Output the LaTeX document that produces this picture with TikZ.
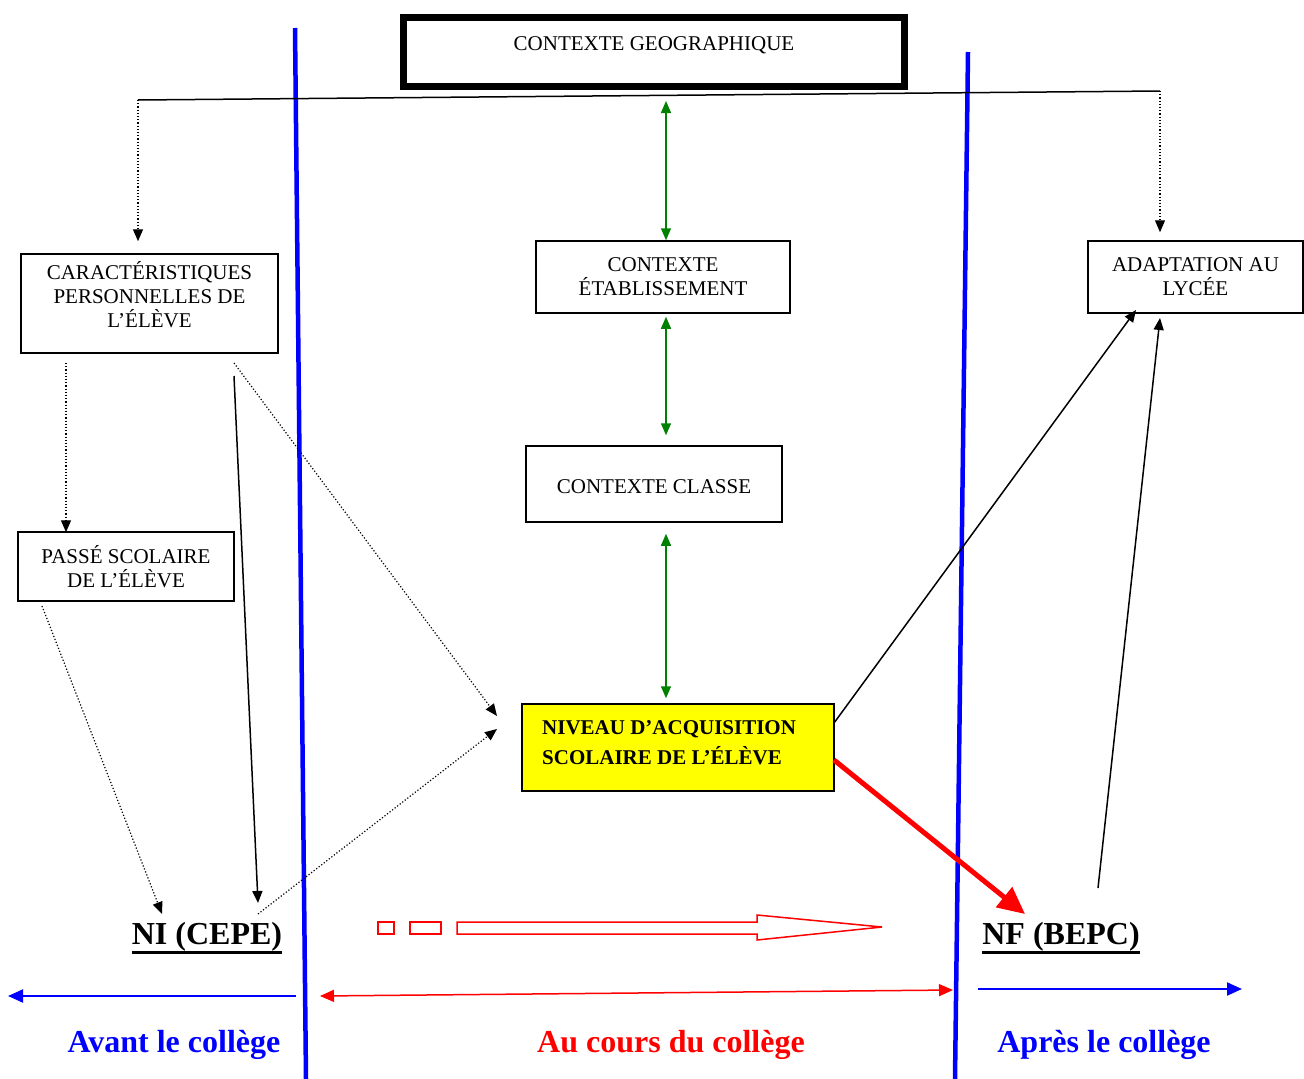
\documentclass[tikz,border=0pt]{standalone}
\usepackage{fontspec}
\setmainfont{Liberation Serif}
\usetikzlibrary{arrows.meta}
\definecolor{dgreen}{RGB}{0,128,0}
\definecolor{yel}{RGB}{255,255,0}
\begin{document}
\begin{tikzpicture}[x=1pt,y=-1pt,
  box/.style={draw, line width=1.5pt, fill=white, inner sep=0pt},
  txt/.style={font=\fontsize{21}{24}\selectfont, align=center, inner sep=0pt},
  bigtxt/.style={font=\fontsize{32}{36}\selectfont\bfseries, inner sep=0pt},
  lbl/.style={font=\fontsize{32}{36}\selectfont\bfseries, inner sep=0pt},
  tip/.style={-{Triangle[length=12pt,width=10pt]}},
  gtip/.style={dgreen, line width=1.5pt, {Triangle[length=12pt,width=10pt]}-{Triangle[length=12pt,width=10pt]}},
  dots/.style={dotted, line width=1.2pt, tip},
  solid arrow/.style={line width=1.5pt, tip},
  sep/.style={blue, line width=4.5pt},
]
\useasboundingbox (0,0) rectangle (1304,1079);

% separators
\coordinate (s1a) at (295,28);
\coordinate (s1b) at (306,1079);
\coordinate (s2a) at (968,52);
\coordinate (s2b) at (955,1079);
\draw[sep] (s1a) -- (s1b);
\draw[sep] (s2a) -- (s2b);

% top box
\node[draw, line width=7pt, minimum width=501pt, minimum height=69pt, inner sep=0pt] (geo) at (654,52) {};
\node[txt] (geoT) at (654,45) {CONTEXTE GEOGRAPHIQUE};

% boxes
\node[box, minimum width=257pt, minimum height=99pt] (car) at (149.5,303.5) {};
\node[txt] (carT) at (149.5,295) {CARACTÉRISTIQUES\\PERSONNELLES DE\\L’ÉLÈVE};
\node[box, txt, minimum width=254pt, minimum height=72pt] (etab) at (663,277) {CONTEXTE\\ÉTABLISSEMENT};
\node[box, txt, minimum width=215pt, minimum height=72pt] (ada) at (1195.5,277) {ADAPTATION AU\\LYCÉE};
\node[box, minimum width=256pt, minimum height=76pt] (classe) at (654,484) {};
\node[txt] (classeT) at (654,487) {CONTEXTE CLASSE};
\node[box, txt, minimum width=216pt, minimum height=69pt] (passe) at (126,566.5) {PASSÉ SCOLAIRE\\DE L’ÉLÈVE};
\node[box, fill=yel, minimum width=312pt, minimum height=87pt] (niv) at (678,747.5) {};
\node[txt, align=left, anchor=west, font=\fontsize{21}{30}\selectfont\bfseries] (nivT) at (542,743) {NIVEAU D’ACQUISITION\\SCOLAIRE DE L’ÉLÈVE};

\node[bigtxt] (ni) at (207,937) {NI (CEPE)};
\node[bigtxt] (nf) at (1061,937) {NF (BEPC)};
\draw[line width=3pt] ([yshift=-1pt]ni.south west) -- ([yshift=-1pt]ni.south east);
\draw[line width=3pt] ([yshift=-1pt]nf.south west) -- ([yshift=-1pt]nf.south east);

% top connector
\coordinate (tl) at (138,100);
\coordinate (tr) at (1160,91);
\draw[line width=1.5pt] (tl) -- (tr);
\draw[dots] (tl) -- ([xshift=-11.5pt,yshift=12pt]car.north);
\draw[dots] (tr) -- ([xshift=-35.5pt,yshift=8pt]ada.north);

% green arrows
\draw[gtip] ([xshift=12pt,yshift=-11pt]geo.south) -- ([xshift=3pt]etab.north);
\draw[gtip] ([xshift=3pt,yshift=-3pt]etab.south) -- ([xshift=12pt,yshift=10pt]classe.north);
\draw[gtip] ([xshift=12pt,yshift=-11pt]classe.south) -- ([xshift=-12pt,yshift=5pt]niv.north);

% left connectors
\coordinate (c1) at (66,363);
\coordinate (c2) at (234,376);
\coordinate (c3) at (234,363);
\coordinate (p1) at (42,606);
\coordinate (n1) at (258,914);
\draw[dots] (c1) -- ([xshift=-60pt,yshift=-1pt]passe.north);
\draw[solid arrow] (c2) -- (258,903) coordinate (niTop);
\draw[dots] (c3) -- (497,716) coordinate (nivIn1);
\draw[dots] (p1) -- (162,914) coordinate (niLeft);
\draw[dots] (n1) -- (497,729) coordinate (nivIn2);

% right connectors
\coordinate (v1) at (834,723);
\coordinate (f1) at (1098,888);
\draw[solid arrow] (v1) -- (1136,310) coordinate (adaIn1);
\draw[solid arrow] (f1) -- (1160,318) coordinate (adaIn2);
\coordinate (v2) at (834,760);
\draw[red, line width=5pt, -{Triangle[length=27pt,width=25pt]}] (v2) -- (1025,914) coordinate (nfIn);

% red outline arrow
\draw[red, line width=1.5pt] (378,922) rectangle (394,934);
\draw[red, line width=1.5pt] (410,922) rectangle (441,934);
\draw[red, line width=1.5pt] (457,922) -- (757,922) -- (757,915) -- (882,927) -- (757,940) -- (757,934) -- (457,934) -- cycle;

% bottom arrows
\coordinate (b1) at (296,996);
\coordinate (b2) at (8,996);
\coordinate (b3) at (320,996);
\coordinate (b4) at (953,990);
\coordinate (b5) at (978,989);
\coordinate (b6) at (1242,989);
\draw[blue, line width=2pt, -{Triangle[length=15pt,width=13pt]}] (b1) -- (b2);
\draw[red, line width=1.5pt, {Triangle[length=14pt,width=12pt]}-{Triangle[length=14pt,width=12pt]}] (b3) -- (b4);
\draw[blue, line width=2pt, -{Triangle[length=15pt,width=13pt]}] (b5) -- (b6);

\node[lbl, blue] (avant) at (174,1045) {Avant le collège};
\node[lbl, red] (cours) at (671,1045) {Au cours du collège};
\node[lbl, blue] (apres) at (1104,1045) {Après le collège};
\end{tikzpicture}
\end{document}
